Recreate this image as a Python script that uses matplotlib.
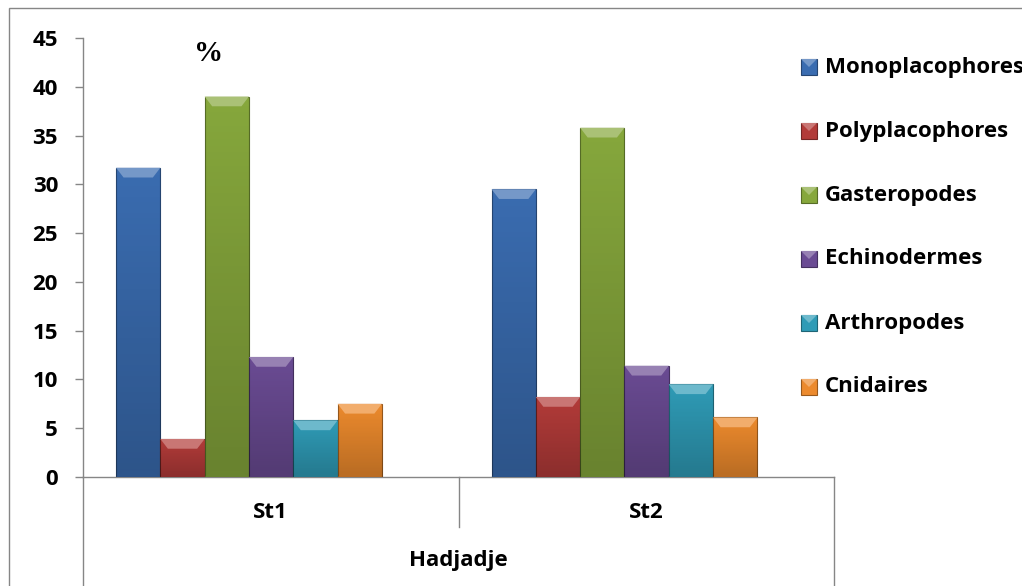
import numpy as np
import matplotlib
matplotlib.use("Agg")
import matplotlib.pyplot as plt
from matplotlib.patches import Polygon, Rectangle
from matplotlib.lines import Line2D
import matplotlib.colors as mcolors
import matplotlib.transforms as mtransforms

plt.rcParams['font.family'] = ['Open Sans', 'DejaVu Sans']
plt.rcParams['font.weight'] = 'bold'

stations = ["St1", "St2"]
site = "Hadjadje"
groups = ["Monoplacophores", "Polyplacophores", "Gasteropodes",
          "Echinodermes", "Arthropodes", "Cnidaires"]
st1_values = [31.7, 3.9, 39.0, 12.3, 5.8, 7.5]
st2_values = [29.5, 8.2, 35.8, 11.4, 9.5, 6.1]
colors = ["#3A6CB0", "#B23B39", "#86A73C", "#6A4B93", "#2F9BB6", "#EC8A2D"]
y_ticks = [0, 5, 10, 15, 20, 25, 30, 35, 40, 45]

W, H = 1022, 586
FS = 16
fig = plt.figure(figsize=(W / 100, H / 100), dpi=100)
ax = fig.add_axes([83 / W, (H - 477) / H, 751 / W, 439 / H])

values = np.array([st1_values, st2_values])
n = len(groups)
bar_w = 0.118
centers = np.arange(len(stations)) + 0.442


def shade(c, f):
    r, g, b = mcolors.to_rgb(c)
    if f >= 0:
        return (r + (1 - r) * f, g + (1 - g) * f, b + (1 - b) * f)
    return (r * (1 + f), g * (1 + f), b * (1 + f))


grad = np.linspace(0, 1, 64).reshape(-1, 1)
for i, name in enumerate(groups):
    xs = centers + (i - (n - 1) / 2) * bar_w
    bc = ax.bar(xs, values[:, i], width=bar_w, color=colors[i],
                edgecolor=shade(colors[i], -0.35), linewidth=0.8,
                label=name, zorder=3)
    for rect in bc:
        x0, w, h = rect.get_x(), rect.get_width(), rect.get_height()
        # darkening toward the bottom of each bar
        im = ax.imshow(np.dstack([np.zeros((64, 1, 3)), grad * 0.22]),
                       extent=(x0, x0 + w, 0, h), aspect='auto',
                       origin='upper', zorder=3.2, interpolation='bilinear')
        im.set_clip_path(rect)
        dx, dy = 0.02, 1.0
        ax.add_patch(Polygon([(x0, h), (x0 + w, h), (x0 + w - dx, h - dy),
                              (x0 + dx, h - dy)], closed=True,
                             facecolor=shade(colors[i], 0.3),
                             edgecolor='none', zorder=3.5))
        ax.add_patch(Polygon([(x0, 0), (x0 + w, 0), (x0 + w - dx, dy * 0.6),
                              (x0 + dx, dy * 0.6)], closed=True,
                             facecolor=shade(colors[i], -0.2),
                             edgecolor='none', alpha=0.6, zorder=3.5))

ax.set_xlim(0, len(stations))
ax.set_ylim(0, 45)
ax.set_yticks(y_ticks)
ax.set_yticklabels([str(t) for t in y_ticks], fontsize=FS, fontweight='bold')
ax.tick_params(axis='y', length=6, width=1, color='#868686', pad=12)
ax.set_xticks([])
for s in ['top', 'right']:
    ax.spines[s].set_visible(False)
for s in ['left', 'bottom']:
    ax.spines[s].set_color('#868686')
    ax.spines[s].set_linewidth(1)

# category table below the axis
tr = mtransforms.blended_transform_factory(ax.transData, ax.transAxes)
for xv, y1 in [(0, -0.26), (len(stations), -0.26), (1, -0.114)]:
    ax.add_line(Line2D([xv, xv], [0, y1], transform=tr, color='#868686',
                       lw=1, clip_on=False))
for k, st in enumerate(stations):
    ax.text(k + 0.5, -0.082, st, transform=tr, ha='center', va='center',
            fontsize=FS, fontweight='bold')
ax.text(len(stations) / 2, -0.191, site, transform=tr, ha='center',
        va='center', fontsize=FS, fontweight='bold')

ax.text(0.335, 43.4, "%", fontsize=21, fontweight='bold',
        family='Liberation Serif', ha='center', va='center')

# legend: beveled colour keys with labels
for i, name in enumerate(groups):
    yc = 67 + 64 * i
    x0, s = 801, 16
    fig.add_artist(Rectangle((x0 / W, (H - yc - s / 2) / H), s / W, s / H,
                             transform=fig.transFigure,
                             facecolor=colors[i],
                             edgecolor=shade(colors[i], -0.35), lw=0.8))
    fig.add_artist(Polygon([(x0 / W, (H - yc + s / 2) / H),
                            ((x0 + s) / W, (H - yc + s / 2) / H),
                            ((x0 + s / 2) / W, (H - yc) / H)],
                           closed=True, transform=fig.transFigure,
                           facecolor=shade(colors[i], 0.3), edgecolor='none'))
    fig.text(825 / W, (H - yc) / H, name, ha='left', va='center',
             fontsize=FS, fontweight='bold')

# outer chart border
fig.add_artist(Rectangle((9 / W, -0.1), 1.2, 1 - 8 / H + 0.1,
                         transform=fig.transFigure, fill=False,
                         edgecolor='#868686', lw=1))

fig.savefig("out.png", dpi=100)
